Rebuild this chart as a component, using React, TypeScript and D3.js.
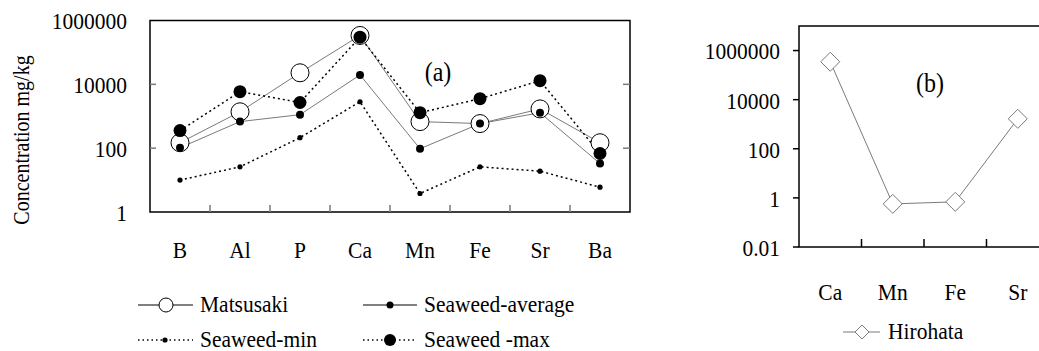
import React from "react";
import * as d3 from "d3";

// panel (a) data
const elementsA = ["B", "Al", "P", "Ca", "Mn", "Fe", "Sr", "Ba"];
const matsusaki = [148, 1380, 23000, 340000, 680, 590, 1700, 148];
const seaweedAvg = [103, 680, 1120, 19700, 96, 590, 1290, 33];
const seaweedMin = [10, 26, 213, 2850, 3.8, 26, 19, 6];
const seaweedMax = [355, 5900, 2700, 300000, 1290, 3550, 13000, 68];
const ticksA = [1, 100, 10000, 1000000];

// panel (b) data
const elementsB = ["Ca", "Mn", "Fe", "Sr"];
const hirohata = [350000, 0.57, 0.69, 1660];
const ticksB = [0.01, 1, 100, 10000, 1000000];

const FONT = '"Liberation Serif", "DejaVu Serif", "Times New Roman", Times, serif';
const GRAY = "#7a7a7a";

function T({ x, y, size = 21.5, anchor = "start", rotate = 0, children }: any) {
	// text in the source is slightly stretched vertically
	return (
		<text
			transform={`translate(${x},${y}) rotate(${rotate}) scale(1,1.12)`}
			style={{ fontFamily: FONT, fontSize: size }}
			textAnchor={anchor}
			dominantBaseline="central"
			fill="#000"
		>
			{children}
		</text>
	);
}

export default function App() {
	const xA = d3.scaleBand().domain(elementsA).range([150, 630]);
	const yA = d3.scaleLog().domain([1, 1e6]).range([212, 20.5]);
	const cxA = (c: string) => (xA(c) as number) + xA.bandwidth() / 2;

	const xB = d3.scaleBand().domain(elementsB).range([799, 1049]);
	const yB = d3.scaleLog().domain([0.01, 1e7]).range([247, 26]);
	const cxB = (c: string) => (xB(c) as number) + xB.bandwidth() / 2;

	const lineA = d3
		.line<number>()
		.x((_, i) => cxA(elementsA[i]))
		.y((d) => yA(d));
	const lineB = d3
		.line<number>()
		.x((_, i) => cxB(elementsB[i]))
		.y((d) => yB(d));

	const diamond = (x: number, y: number, r: number) =>
		`M${x},${y - r}L${x + r},${y}L${x},${y + r}L${x - r},${y}Z`;

	const [a0, a1] = xA.range();
	const [yTop, yBot] = [yA.range()[1], yA.range()[0]];

	return (
		<svg width={1039} height={351} style={{ position: "absolute", left: 0, top: 0, background: "#fff" }}>
			{/* ---------- panel (a) ---------- */}
			<rect x={a0} y={yTop} width={a1 - a0} height={yBot - yTop} fill="none" stroke="#000" strokeWidth={1.5} />
			{ticksA
				.filter((t) => t !== 1 && t !== 1e6)
				.map((t) => (
					<g key={"ta" + t}>
						<line x1={a0} x2={a0 + 6} y1={yA(t)} y2={yA(t)} stroke={GRAY} strokeWidth={1.5} />
						<line x1={a1 - 7} x2={a1} y1={yA(t)} y2={yA(t)} stroke={GRAY} strokeWidth={1.5} />
					</g>
				))}
			{elementsA.slice(1).map((c) => (
				<line key={"xa" + c} x1={xA(c)} x2={xA(c)} y1={yBot} y2={yBot - 7} stroke={GRAY} strokeWidth={1.5} />
			))}
			{ticksA.map((t) => (
				<T key={"la" + t} x={127} y={yA(t) + 1} anchor="end">
					{String(t)}
				</T>
			))}
			{elementsA.map((c) => (
				<T key={"ca" + c} x={cxA(c)} y={250} anchor="middle">
					{c}
				</T>
			))}
			<T x={22} y={140} anchor="middle" rotate={-90} size={20}>
				Concentration mg/kg
			</T>
			<T x={438} y={72} anchor="middle" size={24}>
				(a)
			</T>

			<path d={lineA(matsusaki) as string} fill="none" stroke={GRAY} strokeWidth={1} />
			<path d={lineA(seaweedAvg) as string} fill="none" stroke={GRAY} strokeWidth={1} />
			<path d={lineA(seaweedMin) as string} fill="none" stroke="#000" strokeWidth={1.5} strokeDasharray="2,3" />
			<path d={lineA(seaweedMax) as string} fill="none" stroke="#000" strokeWidth={1.5} strokeDasharray="2,3" />

			{matsusaki.map((v, i) => (
				<circle key={"m" + i} cx={cxA(elementsA[i])} cy={yA(v)} r={9} fill="#fff" stroke="#000" strokeWidth={1} />
			))}
			{seaweedMin.map((v, i) => (
				<circle key={"mn" + i} cx={cxA(elementsA[i])} cy={yA(v)} r={2.6} fill="#000" />
			))}
			{seaweedAvg.map((v, i) => (
				<circle key={"av" + i} cx={cxA(elementsA[i])} cy={yA(v)} r={4} fill="#000" />
			))}
			{seaweedMax.map((v, i) => (
				<circle key={"mx" + i} cx={cxA(elementsA[i])} cy={yA(v)} r={6.5} fill="#000" />
			))}

			{/* legend (a) */}
			<line x1={138} x2={193} y1={305} y2={305} stroke="#000" strokeWidth={1} />
			<circle cx={166} cy={305} r={7} fill="#fff" stroke="#000" strokeWidth={1} />
			<T x={200} y={304}>Matsusaki</T>
			<line x1={138} x2={193} y1={340} y2={340} stroke="#000" strokeWidth={1.3} strokeDasharray="1.5,3" />
			<circle cx={165} cy={340} r={2.6} fill="#000" />
			<T x={200} y={339}>Seaweed-min</T>
			<line x1={363} x2={417} y1={305} y2={305} stroke="#000" strokeWidth={1} />
			<circle cx={390} cy={305} r={3.5} fill="#000" />
			<T x={424} y={304}>Seaweed-average</T>
			<line x1={363} x2={417} y1={340} y2={340} stroke="#000" strokeWidth={1.3} strokeDasharray="1.5,3" />
			<circle cx={390} cy={340} r={6} fill="#000" />
			<T x={424} y={339}>Seaweed -max</T>

			{/* ---------- panel (b) ---------- */}
			<rect x={799} y={26} width={250} height={221} fill="none" stroke="#000" strokeWidth={1.5} />
			{ticksB.map((t) => (
				<g key={"tb" + t}>
					<line x1={793} x2={799} y1={yB(t)} y2={yB(t)} stroke="#000" strokeWidth={1.5} />
					<T x={780} y={yB(t) + 1} anchor="end">
						{String(t)}
					</T>
				</g>
			))}
			{elementsB.slice(1).map((c) => (
				<line key={"xb" + c} x1={xB(c)} x2={xB(c)} y1={247} y2={239} stroke="#000" strokeWidth={1.5} />
			))}
			{elementsB.map((c) => (
				<T key={"cb" + c} x={cxB(c)} y={292} anchor="middle">
					{c}
				</T>
			))}
			<T x={930} y={83} anchor="middle" size={24}>
				(b)
			</T>
			<path d={lineB(hirohata) as string} fill="none" stroke={GRAY} strokeWidth={1} />
			{hirohata.map((v, i) => (
				<path key={"h" + i} d={diamond(cxB(elementsB[i]), yB(v), 9.5)} fill="#fff" stroke={GRAY} strokeWidth={1} />
			))}

			{/* legend (b) */}
			<line x1={843} x2={880} y1={332} y2={332} stroke={GRAY} strokeWidth={1} />
			<path d={diamond(862, 332, 7)} fill="#fff" stroke={GRAY} strokeWidth={1} />
			<T x={888} y={331}>Hirohata</T>
		</svg>
	);
}
